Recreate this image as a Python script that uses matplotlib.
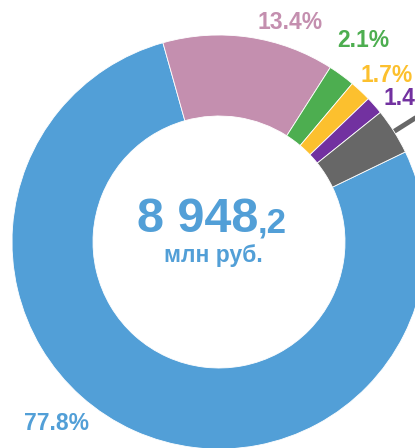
import matplotlib
matplotlib.use('Agg')
import matplotlib.pyplot as plt
import numpy as np

# Data
labels = ['77.8%', '13.4%', '2.1%', '1.7%', '1.4%', '3.6%']
values = [77.8, 13.4, 2.1, 1.7, 1.4, 3.6]
colors = ['#529FD7', '#C48FAF', '#4DAE50', '#FCC02E', '#7231A0', '#676767']
total_main = '8 948'
total_dec = ',2'
unit_label = 'млн руб.'

FONT = ['Liberation Sans', 'DejaVu Sans']
plt.rcParams['font.family'] = FONT

fig = plt.figure(figsize=(4.15, 4.48), dpi=100)
ax = fig.add_axes([0, 0, 1, 1])

cx, cy = 219, 206
R = 207
W = 81
wedges, _ = ax.pie(values, colors=colors, startangle=25.8, counterclock=False,
                   radius=R, center=(cx, cy),
                   wedgeprops=dict(width=W, edgecolor='white', linewidth=0.6))
ax.set_xlim(0, 415)
ax.set_ylim(0, 448)
ax.set_aspect('equal')
ax.axis('off')

# leader line for the gray slice (its label lies beyond the right edge)
g = wedges[-1]
mid = np.deg2rad((g.theta1 + g.theta2) / 2)
ax.plot([cx + R * np.cos(mid), cx + 260 * np.cos(mid)],
        [cy + R * np.sin(mid), cy + 260 * np.sin(mid)],
        color=colors[-1], lw=3.5, solid_capstyle='butt', zorder=0)

# labels (pixel positions, y up); the gray one is outside the visible area
label_pos = [(56, 18, 'center'), (290, 419, 'center'), (363, 401, 'center'),
             (387, 366, 'center'), (383, 343, 'left')]
for lab, col, (x, y, ha) in zip(labels, colors, label_pos):
    ax.text(x, y, lab, color=col, fontsize=16.5, fontweight='bold',
            ha=ha, va='baseline', clip_on=False)

# center text
ax.text(258, 216, total_main, color=colors[0], fontsize=35, fontweight='bold',
        ha='right', va='baseline')
ax.text(258, 216, total_dec, color=colors[0], fontsize=25, fontweight='bold',
        ha='left', va='baseline')
ax.text(213, 186, unit_label, color=colors[0], fontsize=16.5, fontweight='bold',
        ha='center', va='baseline')

fig.savefig('out.png', dpi=100)
